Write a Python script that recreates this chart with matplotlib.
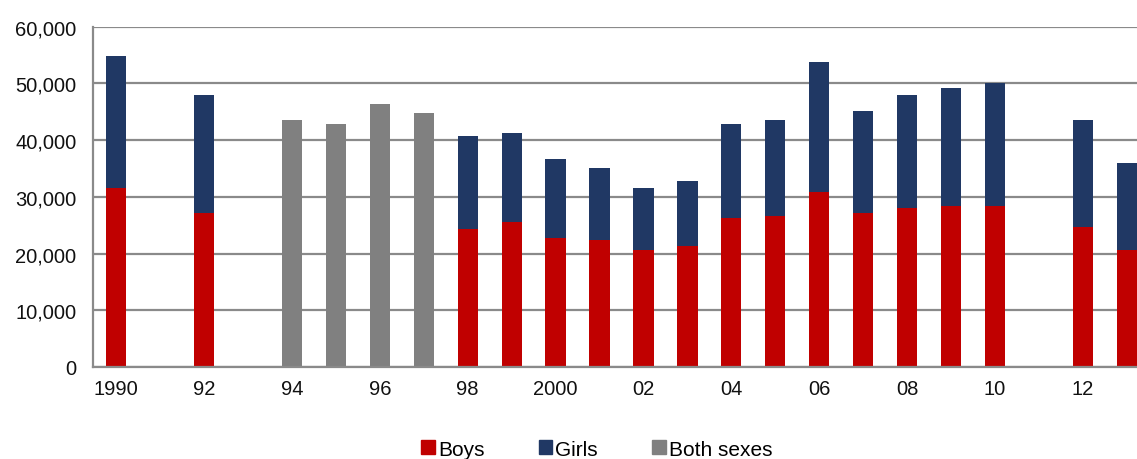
import numpy as np
import matplotlib
matplotlib.use("Agg")
import matplotlib.pyplot as plt
from matplotlib.patches import Patch

plt.rcParams["font.family"] = ["Liberation Sans", "DejaVu Sans"]

years = list(range(1990, 2014))
nan = np.nan
boys = [31500, nan, 27100, nan, nan, nan, nan, nan, 24300, 25500, 22700, 22300,
        20600, 21400, 26300, 26700, 30800, 27100, 28000, 28300, 28300, nan, 24700, 20600]
totals = [54900, nan, 48000, nan, nan, nan, nan, nan, 40800, 41200, 36700, 35100,
          31500, 32700, 42800, 43600, 53700, 45200, 48000, 49200, 50100, nan, 43600, 36000]
both_sexes = [nan, nan, nan, nan, 43600, 42800, 46400, 44800, nan, nan, nan, nan,
              nan, nan, nan, nan, nan, nan, nan, nan, nan, nan, nan, nan]
girls = [t - b for t, b in zip(totals, boys)]

tick_years = list(range(1990, 2013, 2))
tick_labels = ["1990", "92", "94", "96", "98", "2000", "02", "04", "06", "08", "10", "12"]

red = "#C00000"
navy = "#203864"
grey = "#808080"

fig = plt.figure(figsize=(11.37, 4.6), dpi=100)
ax = fig.add_axes([0.082, 0.2, 0.918, 0.74])

w = 0.46
ax.bar(years, boys, width=w, color=red, zorder=3)
ax.bar(years, girls, width=w, bottom=boys, color=navy, zorder=3)
ax.bar(years, both_sexes, width=w, color=grey, zorder=3)

ax.set_ylim(0, 60000)
ax.set_xlim(1989.48, 2013.23)
ax.set_yticks(range(0, 60001, 10000))
ax.set_yticklabels([f"{v:,}" for v in range(0, 60001, 10000)])
ax.set_xticks(tick_years)
ax.set_xticklabels(tick_labels)
ax.tick_params(axis="both", length=0, labelsize=14.5, colors="#111111")
ax.tick_params(axis="x", pad=9)
ax.tick_params(axis="y", pad=12)

ax.yaxis.grid(True, color="#8a8a8a", linewidth=1.6, zorder=0)
ax.set_axisbelow(True)
for s in ["top", "right"]:
    ax.spines[s].set_visible(False)
ax.spines["left"].set_color("#8a8a8a")
ax.spines["left"].set_linewidth(1.6)
ax.spines["bottom"].set_color("#8a8a8a")
ax.spines["bottom"].set_linewidth(1.6)
ax.spines["bottom"].set_zorder(4)

handles = [Patch(color=red, label="Boys"), Patch(color=navy, label="Girls"),
           Patch(color=grey, label="Both sexes")]
fig.legend(handles=handles, loc="lower center", bbox_to_anchor=(0.525, -0.04), ncol=3,
           frameon=False, fontsize=15, handlelength=0.65, handleheight=0.65,
           handletextpad=0.15, columnspacing=2.6)

fig.savefig("out.png", dpi=100)
